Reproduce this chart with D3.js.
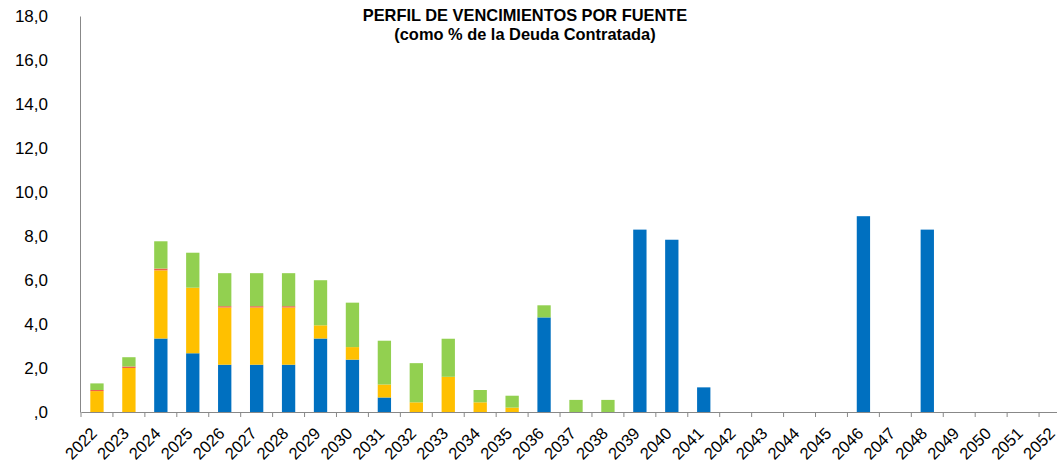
<!DOCTYPE html>
<html>
<head>
<meta charset="utf-8">
<script src="https://cdn.jsdelivr.net/npm/d3@7"></script>
<style>
  body { margin: 0; background: #fff; }
  svg { display: block; font-family: "Liberation Sans", Arial, sans-serif; }
</style>
</head>
<body>
<svg id="chart"></svg>
<script>
// Years on the x axis
const years = ['2022','2023','2024','2025','2026','2027','2028','2029','2030','2031',
  '2032','2033','2034','2035','2036','2037','2038','2039','2040','2041','2042','2043',
  '2044','2045','2046','2047','2048','2049','2050','2051','2052'];

// Series values (% of contracted debt)
const serieAzul = [0, 0, 3.34, 2.67, 2.15, 2.15, 2.15, 3.34, 2.38, 0.66, 0, 0, 0, 0, 4.3, 0, 0,
  8.29, 7.83, 1.12, 0, 0, 0, 0, 8.9, 0, 8.29, 0, 0, 0, 0];
const serieNaranja = [0.95, 2.0, 3.1, 2.98, 2.6, 2.6, 2.6, 0.6, 0.57, 0.59, 0.44, 1.6, 0.44, 0.2, 0, 0, 0,
  0, 0, 0, 0, 0, 0, 0, 0, 0, 0, 0, 0, 0, 0];
const serieRoja = [0.05, 0.07, 0.08, 0, 0.06, 0.06, 0.06, 0, 0, 0, 0, 0, 0, 0, 0, 0, 0,
  0, 0, 0, 0, 0, 0, 0, 0, 0, 0, 0, 0, 0, 0];
const serieVerde = [0.3, 0.42, 1.24, 1.59, 1.5, 1.5, 1.5, 2.05, 2.02, 1.99, 1.78, 1.73, 0.56, 0.54, 0.55, 0.55, 0.55,
  0, 0, 0, 0, 0, 0, 0, 0, 0, 0, 0, 0, 0, 0];

const yTicks = [0, 2, 4, 6, 8, 10, 12, 14, 16, 18];

const keys = ['azul', 'naranja', 'roja', 'verde'];
const colors = { azul: '#0070C0', naranja: '#FFC000', roja: '#F0604A', verde: '#92D050' };

const width = 1057, height = 463;
const svg = d3.select('#chart').attr('width', width).attr('height', height);

// Build rows for the stack
const rows = years.map((y, i) => ({
  year: y,
  azul: serieAzul[i],
  naranja: serieNaranja[i],
  roja: serieRoja[i],
  verde: serieVerde[i]
}));

// Scales
const x = d3.scaleBand()
  .domain(years)
  .range([81, 1071])
  .paddingInner(0.583)
  .paddingOuter(0.2915);

const y = d3.scaleLinear()
  .domain([0, 18])
  .range([412, 16]);

const stacked = d3.stack().keys(keys)(rows);

// Bars
svg.append('g')
  .selectAll('g')
  .data(stacked)
  .join('g')
  .attr('fill', d => colors[d.key])
  .selectAll('rect')
  .data(d => d.filter(p => p[1] - p[0] > 0))
  .join('rect')
  .attr('x', d => x(d.data.year))
  .attr('y', d => y(d[1]))
  .attr('width', x.bandwidth())
  .attr('height', d => y(d[0]) - y(d[1]));

// Y axis
const yAxis = svg.append('g')
  .attr('transform', 'translate(80,0)')
  .call(d3.axisLeft(y)
    .tickValues(yTicks)
    .tickSize(0)
    .tickPadding(32)
    .tickFormat(d => d === 0 ? ',0' : d.toFixed(1).replace('.', ',')));
yAxis.select('.domain').attr('stroke', '#888');
yAxis.selectAll('text')
  .style('font-size', '17px')
  .attr('fill', '#000');

// X axis
const xAxis = svg.append('g')
  .attr('transform', 'translate(0,412)')
  .call(d3.axisBottom(x).tickSize(0).tickSizeOuter(0));
xAxis.select('.domain').attr('stroke', '#888');
xAxis.selectAll('text')
  .style('font-size', '16.5px')
  .attr('fill', '#000')
  .attr('text-anchor', 'end')
  .attr('transform', 'translate(1,22.5) rotate(-45)')
  .attr('y', 0)
  .attr('dy', 0);

// Tick marks at category boundaries
const step = x.step();
const bounds = years.map(yr => x(yr) - (step - x.bandwidth()) / 2);
xAxis.selectAll('line.bound')
  .data(bounds)
  .join('line')
  .attr('class', 'bound')
  .attr('x1', d => d)
  .attr('x2', d => d)
  .attr('y1', 0)
  .attr('y2', 5)
  .attr('stroke', '#888');

// Title
const title = svg.append('text')
  .attr('x', 525)
  .attr('text-anchor', 'middle')
  .style('font-size', '16.4px')
  .style('font-weight', 'bold');
title.append('tspan').attr('x', 525).attr('y', 21).text('PERFIL DE VENCIMIENTOS POR FUENTE');
title.append('tspan').attr('x', 525).attr('y', 40).text('(como % de la Deuda Contratada)');
</script>
</body>
</html>
